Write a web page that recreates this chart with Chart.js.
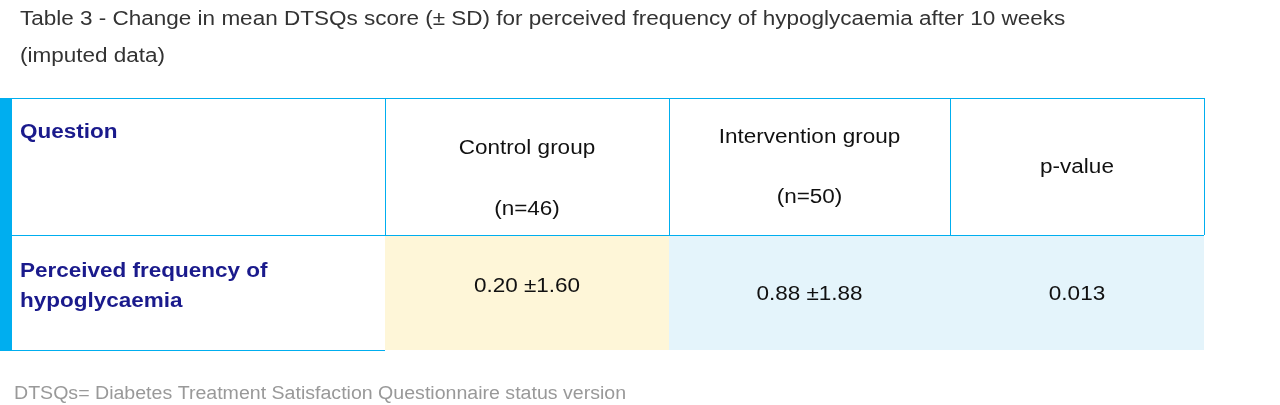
<!DOCTYPE html>
<html><head><meta charset="utf-8">
<script src="https://cdn.jsdelivr.net/npm/chart.js@4"></script>
<style>html,body{margin:0;padding:0;background:#fff}#wrap{width:1280px;height:405px}</style>
</head><body><div id="wrap"><canvas id="c"></canvas></div>
<script>
// table content
var title = ['Table 3 - Change in mean DTSQs score (\u00b1 SD) for perceived frequency of hypoglycaemia after 10 weeks', '(imputed data)'];
var headers = [['Question'], ['Control group', '(n=46)'], ['Intervention group', '(n=50)'], ['p-value']];
var rowLabel = ['Perceived frequency of', 'hypoglycaemia'];
var values = ['0.20 \u00b11.60', '0.88 \u00b11.88', '0.013'];
var footnote = 'DTSQs= Diabetes Treatment Satisfaction Questionnaire status version';

var FONT = 'Helvetica, "Liberation Sans", Arial, sans-serif';
var colX = [12, 385, 669, 950, 1204];
var cellFill = ['#ffffff', '#fef6d8', '#e4f4fb', '#e4f4fb'];
var hdrTop = 98, hdrBot = 235, rowBot = 350;

// text drawn slightly stretched to match the wider original face
function txt(ctx, s, x, y, align, sx) {
  var w = ctx.measureText(s).width * sx;
  var left = align === 'center' ? x - w / 2 : x;
  ctx.save();
  ctx.textAlign = 'left';
  ctx.translate(left, y);
  ctx.scale(sx, 1);
  ctx.fillText(s, 0, 0);
  ctx.restore();
}

var tablePlugin = {
  id: 'table',
  afterDraw: function (chart) {
    var ctx = chart.ctx;
    var S = 1.125;
    ctx.save();
    ctx.textBaseline = 'middle';
    ctx.fillStyle = '#333';
    ctx.font = '20px ' + FONT;
    txt(ctx, title[0], 20, 19, 'left', S);
    txt(ctx, title[1], 20, 56, 'left', S);
    for (var i = 0; i < 4; i++) {
      ctx.fillStyle = cellFill[i];
      ctx.fillRect(colX[i], hdrBot + 1, colX[i + 1] - colX[i], rowBot - hdrBot - 1);
    }
    ctx.fillStyle = '#00aeef';
    ctx.fillRect(0, hdrTop, 12, rowBot - hdrTop + 1);
    ctx.strokeStyle = '#00aeef';
    ctx.lineWidth = 1;
    ctx.beginPath();
    ctx.moveTo(12, hdrTop + 0.5); ctx.lineTo(colX[4], hdrTop + 0.5);
    ctx.moveTo(12, hdrBot + 0.5); ctx.lineTo(colX[4], hdrBot + 0.5);
    for (var j = 1; j < 5; j++) { ctx.moveTo(colX[j] + 0.5, hdrTop); ctx.lineTo(colX[j] + 0.5, hdrBot); }
    ctx.moveTo(12, rowBot + 0.5); ctx.lineTo(colX[1], rowBot + 0.5);
    ctx.stroke();
    ctx.font = 'bold 20px ' + FONT;
    ctx.fillStyle = '#1a1a8c';
    txt(ctx, headers[0][0], 20, 132, 'left', S);
    ctx.font = '20px ' + FONT;
    ctx.fillStyle = '#111';
    var hy = [null, [148, 209], [137, 197], [167]];
    for (var k = 1; k < 4; k++) {
      var cx = (colX[k] + colX[k + 1]) / 2;
      headers[k].forEach(function (t, n) { txt(ctx, t, cx, hy[k][n], 'center', S); });
    }
    ctx.font = 'bold 20px ' + FONT;
    ctx.fillStyle = '#1a1a8c';
    txt(ctx, rowLabel[0], 20, 271, 'left', S);
    txt(ctx, rowLabel[1], 20, 301, 'left', S);
    ctx.font = '20px ' + FONT;
    ctx.fillStyle = '#111';
    var vy = [286, 294, 294];
    values.forEach(function (v, n) { txt(ctx, v, (colX[n + 1] + colX[n + 2]) / 2, vy[n], 'center', S); });
    ctx.fillStyle = '#999';
    ctx.font = '18px ' + FONT;
    txt(ctx, footnote, 14, 394, 'left', 1.087);
    ctx.restore();
  }
};

new Chart(document.getElementById('c'), {
  type: 'bar',
  data: { labels: [], datasets: [] },
  options: {
    responsive: true,
    maintainAspectRatio: false,
    animation: false,
    plugins: { legend: { display: false }, tooltip: { enabled: false } },
    scales: { x: { display: false }, y: { display: false } }
  },
  plugins: [tablePlugin]
});
</script>
</body></html>
